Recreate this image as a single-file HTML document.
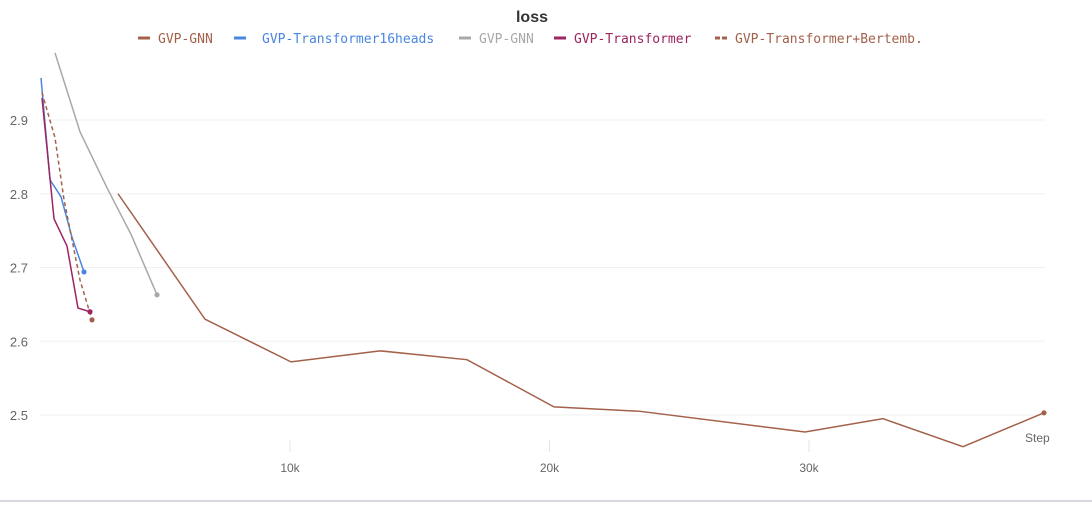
<!DOCTYPE html>
<html><head><meta charset="utf-8"><style>
body{margin:0;background:#fff;font-family:"Liberation Sans",sans-serif}
svg text{font-family:"Liberation Sans",sans-serif}
.leg{font-family:"DejaVu Sans Mono","Liberation Mono",monospace;font-size:13px}
</style></head><body>
<svg id="c" width="1092" height="504">
<text x="532" y="22" text-anchor="middle" font-size="16" font-weight="bold" fill="#333">loss</text>
<g id="legend"></g>
<g id="grid"></g><g id="series"></g>
<text x="1025" y="442" font-size="12" fill="#666">Step</text>
<line x1="0" y1="501" x2="1092" y2="501" stroke="#d8d8e0" stroke-width="2"/>
</svg>
<script>
const yTicks=[2.5,2.6,2.7,2.8,2.9];
const xTicks=[10000,20000,30000];
const xTickLabels=["10k","20k","30k"];
const names=["GVP-GNN","GVP-Transformer16heads","GVP-GNN","GVP-Transformer","GVP-Transformer+Bertemb."];
const colors=["#a3614b","#4a86e0","#a8a8a8","#9c2560","#a3614b"];
const gnnSteps=[3372,6724,10039,13468,16821,20173,23487,29846,32852,35935,39056];
const gnnLoss=[2.800,2.630,2.572,2.587,2.575,2.511,2.505,2.477,2.495,2.457,2.503];
const t16Steps=[405,751,1175,1599,2062];
const t16Loss=[2.957,2.819,2.796,2.741,2.694];
const gnn2Steps=[944,1908,2948,3873,4875];
const gnn2Loss=[2.991,2.884,2.808,2.745,2.663];
const trSteps=[443,906,1407,1830,2293];
const trLoss=[2.930,2.766,2.729,2.645,2.640];
const bertSteps=[443,944,1291,1908,2370];
const bertLoss=[2.937,2.876,2.792,2.683,2.629];
const NS="http://www.w3.org/2000/svg";
const X=s=>30.5+s/10000*259.5;
const Y=v=>415-(v-2.5)*737.5;
function mk(tag,attrs,parent){const e=document.createElementNS(NS,tag);for(const k in attrs)e.setAttribute(k,attrs[k]);parent.appendChild(e);return e;}
const grid=document.getElementById('grid');
yTicks.forEach(v=>{
 const l=mk('line',{x1:40,x2:1045,y1:Y(v),y2:Y(v),stroke:'#f0f0f0'},grid);
 
 
 const t=mk('text',{x:28,y:Y(v)+5,'text-anchor':'end','font-size':13,fill:'#666'},grid);
 t.textContent=v.toFixed(1);
 
 
});
xTicks.forEach((s,i)=>{
 const l=mk('line',{x1:X(s),x2:X(s),y1:440,y2:452,stroke:'#e4e4e4'},grid);
 
 
 const t=mk('text',{x:X(s),y:472,'text-anchor':'middle','font-size':12,fill:'#666'},grid);
 t.textContent=xTickLabels[i];
 
 
});
const sg=document.getElementById('series');
const series=[[gnnSteps,gnnLoss,0,false],[gnn2Steps,gnn2Loss,2,false],[t16Steps,t16Loss,1,false],[bertSteps,bertLoss,4,true],[trSteps,trLoss,3,false]];
series.forEach(([xs,ys,ci,dash])=>{
 const p=mk('polyline',{points:xs.map((s,i)=>X(s)+','+Y(ys[i])).join(' '),fill:'none',stroke:colors[ci],'stroke-width':1.5,'stroke-dasharray':dash?'4,3':'none'},sg);
 
 
 const n=xs.length-1;
 const c=mk('circle',{cx:X(xs[n]),cy:Y(ys[n]),r:2.6,fill:colors[ci]},sg);
 
 
});
const lg=document.getElementById('legend');
const lx=[138,234,459,554,715];
names.forEach((n,i)=>{
 const l=mk('line',{x1:lx[i],x2:lx[i]+12,y1:38,y2:38,stroke:colors[i],'stroke-width':3,'stroke-dasharray':i==4?'5,2':'none'},lg);
 
 
 const t=mk('text',{x:lx[i]+(i==1?28:20),y:43,fill:colors[i],class:'leg'},lg);
 t.textContent=n;
 
 
});
</script>
</body></html>
